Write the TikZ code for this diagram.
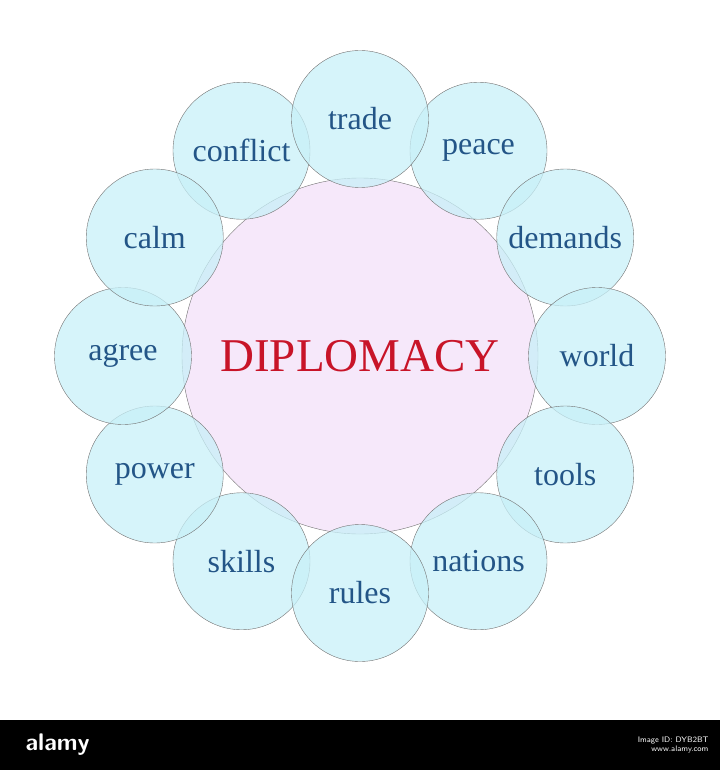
\documentclass[tikz,border=0pt]{standalone}
\usepackage{fontspec}
\setmainfont{Liberation Serif}
\usetikzlibrary{calc}
\definecolor{myblue}{RGB}{35,85,135}
\definecolor{myred}{RGB}{200,20,40}
\definecolor{mycyan}{RGB}{200,240,248}
\definecolor{mypink}{RGB}{246,232,250}

\tikzset{
    word/.style={circle, draw=gray!90!black, fill=mycyan, fill opacity=0.75, text opacity=1,
        minimum size=137pt, inner sep=0pt},
    label/.style={text=myblue, font=\fontsize{32}{36}\selectfont},
    hub/.style={circle, draw=gray!90!black, fill=mypink, minimum size=356pt, inner sep=0pt,
        text=myred, font=\fontsize{47}{50}\selectfont}
}

\begin{document}
\begin{tikzpicture}[x=1pt, y=-1pt]
    \useasboundingbox (0,0) rectangle (720,770);
    % central circle
    \node[hub] (hub) at (360,356) {DIPLOMACY};
    % surrounding words
    \foreach \ang/\txt in {120/conflict, 60/peace, 90/trade, 30/demands, 0/world, -30/tools,
        -60/nations, -120/skills, -90/rules, -150/power, 180/agree, 150/calm}
        \node[word] (w-\txt) at ($(hub.center)+(-\ang:237)$) {};
    \foreach \txt in {conflict, peace, trade, demands, world, tools,
        nations, skills, rules, power, agree, calm}
        \node[label] at (w-\txt) {\txt};
    % bottom bar
    \fill[black] (0,720) rectangle (720,770);
    \node[white, font=\sffamily\bfseries\fontsize{24}{26}\selectfont, anchor=west] (logo) at (22,745) {alamy};
    \node[white, font=\sffamily\fontsize{8}{9}\selectfont, anchor=east, align=right] (ref) at (712,745) {Image ID: DYB2BT\\www.alamy.com};
\end{tikzpicture}
\end{document}
